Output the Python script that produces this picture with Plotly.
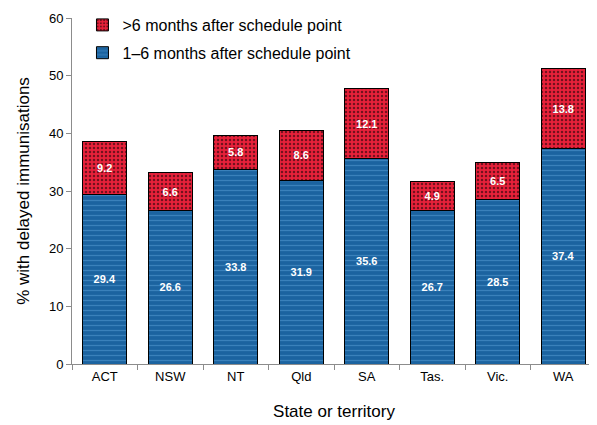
import plotly.graph_objects as go

states = ["ACT", "NSW", "NT", "Qld", "SA", "Tas.", "Vic.", "WA"]
one_to_six = [29.4, 26.6, 33.8, 31.9, 35.6, 26.7, 28.5, 37.4]
over_six = [9.2, 6.6, 5.8, 8.6, 12.1, 4.9, 6.5, 13.8]

label_font = dict(color="white", size=11, family="Liberation Sans, Arial", weight="bold")

fig = go.Figure()
fig.add_trace(go.Bar(
    x=states, y=one_to_six, name="1\u20136 months after schedule point",
    legendgroup="a", legendrank=2,
    marker=dict(color="#1b63a0", line=dict(color="black", width=1),
                pattern=dict(shape="-", fgcolor="#5a9fd6", size=5, solidity=0.25)),
    text=[f"{v:.1f}" for v in one_to_six], textposition="inside",
    insidetextanchor="middle", textfont=label_font,
))
fig.add_trace(go.Bar(
    x=states, y=over_six, name=">6 months after schedule point",
    legendgroup="b", legendrank=1,
    marker=dict(color="#e8213a", line=dict(color="black", width=1),
                pattern=dict(shape=".", fgcolor="black", size=4, solidity=0.3)),
    text=[f"{v:.1f}" for v in over_six], textposition="inside",
    insidetextanchor="middle", textfont=label_font,
))

# page body has an 8px margin, so the figure is sized to fit the window
fig.update_layout(
    barmode="stack", bargap=0.33,
    width=589, height=417,
    margin=dict(l=64, r=1, t=10, b=61, autoexpand=False),
    plot_bgcolor="white", paper_bgcolor="white",
    font=dict(family="Liberation Sans, Arial", color="black"),
    uniformtext=dict(mode="show", minsize=11),
    legend=dict(x=0.02, y=1.0, yref="container", xanchor="left", yanchor="top",
                traceorder="grouped", font=dict(size=16),
                bgcolor="rgba(0,0,0,0)", tracegroupgap=4),
    showlegend=True,
)
fig.update_yaxes(
    range=[0, 60], dtick=10, showgrid=False, zeroline=False,
    showline=True, linecolor="#8c8c8c", ticks="outside", ticklen=5,
    tickcolor="#8c8c8c", tickfont=dict(size=13),
    title=dict(text="% with delayed immunisations", font=dict(size=17), standoff=14),
)
fig.update_xaxes(
    showline=True, linecolor="#8c8c8c", ticks="outside", tickson="boundaries",
    ticklen=5, tickcolor="#8c8c8c", tickfont=dict(size=13),
    title=dict(text="State or territory", font=dict(size=17), standoff=22),
)
fig.write_html("out.html")
